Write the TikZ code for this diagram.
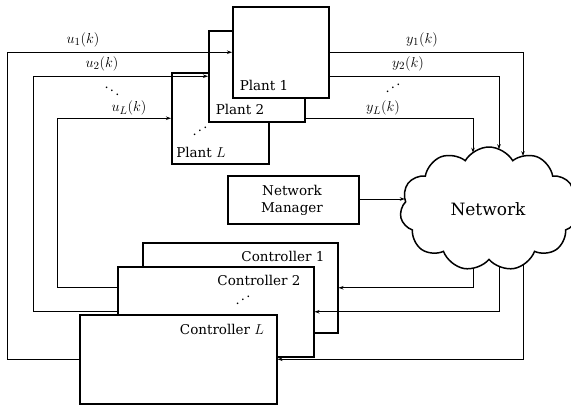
\documentclass[tikz,border=0pt]{standalone}
\usepackage{fontspec}
\setmainfont{DejaVu Serif}
\usetikzlibrary{arrows.meta,shapes.symbols,intersections}
\newcommand{\myupdots}{\raisebox{0pt}{.}\kern1.2pt\raisebox{3.5pt}{.}\kern1.2pt\raisebox{7pt}{.}}
\newcommand{\mydowndots}{\raisebox{7pt}{.}\kern1.2pt\raisebox{3.5pt}{.}\kern1.2pt\raisebox{0pt}{.}}
\begin{document}
\begin{tikzpicture}[x=1pt,y=-1pt,
  box/.style={draw, fill=white, line width=1.5pt, anchor=north west, inner sep=0pt},
  wire/.style={line width=1pt},
  arr/.style={wire, -{Stealth[length=5pt,width=3.5pt]}},
  txt/.style={font=\fontsize{13.5}{17}\selectfont, inner sep=0pt, align=center},
  mth/.style={font=\fontsize{15}{17}\selectfont, inner sep=0pt},
  dots/.style={font=\fontsize{13}{16}\selectfont, inner sep=0pt}
]
\useasboundingbox (0,0) rectangle (571,405);

% plants
\node[box, minimum width=97, minimum height=91] (plantL) at (171,72) {};
\node[box, minimum width=96, minimum height=91] (plant2) at (208,30) {};
\node[box, minimum width=96, minimum height=91] (plant1) at (232,6) {};
\node[txt] (tp1) at (264,85) {Plant 1};
\node[txt] (tp2) at (240,109) {Plant 2};
\node[txt] (tpL) at (201,152) {Plant $L$};
\node[dots] (dpL) at (200,131) {\myupdots};

% network manager
\node[box, minimum width=131, minimum height=48] (nm) at (227,175) {};
\node[txt] (tnm) at (292,200) {Network\\Manager};

% controllers
\node[box, minimum width=195, minimum height=90] (ctrl1) at (142,242) {};
\node[box, minimum width=196, minimum height=90] (ctrl2) at (117,266) {};
\node[box, minimum width=197, minimum height=89] (ctrlL) at (79,314) {};
\node[txt] (tc1) at (283,256) {Controller 1};
\node[txt] (tc2) at (259,280) {Controller 2};
\node[txt] (tcL) at (222,329) {Controller $L$};
\node[dots] (dc) at (243,300) {\myupdots};

% network cloud
\node[cloud, draw, line width=1.5pt, fill=white, cloud puffs=11, cloud puff arc=120, aspect=1.5,
      minimum width=178, minimum height=124, inner sep=0pt, name path=cloudp] (net) at (489,209) {};
\node[font=\fontsize{17}{20}\selectfont, inner sep=0pt] (tnet) at (488,209) {Network};

% intersection points on the cloud
\path[name path=vA] (473,120) -- (473,209);
\path[name path=vB] (499,120) -- (499,209);
\path[name path=vC] (523,120) -- (523,209);
\path[name path=wA] (473,209) -- (473,300);
\path[name path=wB] (499,209) -- (499,300);
\path[name path=wC] (523,209) -- (523,300);
\path[name path=hN] (358,199) -- (488,199);
\path[name intersections={of=vA and cloudp, by=tA}];
\path[name intersections={of=vB and cloudp, by=tB}];
\path[name intersections={of=vC and cloudp, by=tC}];
\path[name intersections={of=wA and cloudp, by=bA}];
\path[name intersections={of=wB and cloudp, by=bB}];
\path[name intersections={of=wC and cloudp, by=bC}];
\path[name intersections={of=hN and cloudp, by=tN}];

% left-side loops (controllers to plants)
\coordinate (xa) at (7,0);
\coordinate (xb) at (33,0);
\coordinate (xc) at (57,0);
\draw[arr] (ctrlL.west) -| (xa |- plant1.west) -- (plant1.west);
\draw[arr] (ctrl2.west) -| (xb |- plant2.west) -- (plant2.west);
\draw[arr] (ctrl2.west |- ctrl1.west) -| (xc |- plantL.west) -- (plantL.west);

% right side (plants to network)
\draw[arr] (plant1.east) -| (tC);
\draw[arr] (plant1.east |- plant2.east) -| (tB);
\draw[arr] (plant2.east |- plantL.east) -| (tA);

% network to controllers
\draw[arr] (bA) |- (ctrl1.east);
\draw[arr] (bB) |- (ctrl2.east);
\draw[arr] (bC) |- (ctrlL.east);

% manager to network
\draw[arr] (nm.east |- tN) -- (tN);

% signal labels
\node[mth] (lu1) at (83,40) {$u_1(k)$};
\node[mth] (lu2) at (102,64) {$u_2(k)$};
\node[dots] (du) at (112,91) {\mydowndots};
\node[mth] (luL) at (129,108) {$u_L(k)$};
\node[mth] (ly1) at (422,40) {$y_1(k)$};
\node[mth] (ly2) at (408,64) {$y_2(k)$};
\node[dots] (dy) at (393,88) {\myupdots};
\node[mth] (lyL) at (383,108) {$y_L(k)$};
\end{tikzpicture}
\end{document}
